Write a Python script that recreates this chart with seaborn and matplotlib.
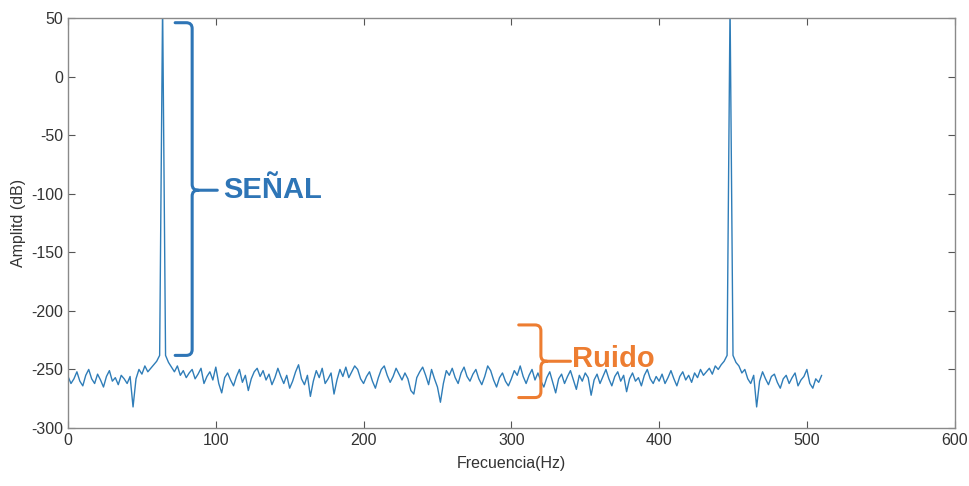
import numpy as np
import seaborn as sns
import matplotlib.pyplot as plt
from matplotlib.path import Path
from matplotlib.patches import PathPatch

seg_a = [-256, -262, -258, -252, -260, -264, -255, -250, -258, -262,
         -254, -259, -265, -256, -251, -260, -257, -263, -255, -258,
         -262, -256, -282, -258, -250, -254, -247, -252, -249, -246,
         -243, -238]
peak_1 = [62]
seg_b = [-238, -244, -248, -252, -247, -255, -251, -257, -253, -250,
         -258, -254, -249, -262, -256, -252, -259]
seg_c = [-248, -262, -270, -257, -253, -259, -264, -256, -250, -261,
         -255, -268, -258, -252, -249, -256, -251, -259, -254, -263,
         -257, -249, -256, -262, -255, -266, -260, -252, -246, -258,
         -263, -255, -273, -260, -251, -257, -249, -262, -258, -253,
         -271, -259, -250, -256, -248, -257, -252, -247, -250, -258]
seg_d = [-262, -256, -252, -260, -266, -257, -250, -247, -255, -261,
         -256, -249, -254, -259, -253, -258, -268, -271, -257, -252,
         -248, -255, -263, -250, -258, -265, -278, -262, -251, -255,
         -249, -257, -262, -253, -248, -256, -260, -254, -250, -258,
         -263, -256, -247, -251, -259, -265, -257, -253, -260, -264]
seg_e = [-258, -251, -255, -247, -256, -262, -255, -250, -259, -253,
         -260, -265, -257, -252, -261, -270, -258, -254, -262, -256,
         -251, -259, -267, -255, -260, -253, -257, -272, -259, -254,
         -262, -256, -250, -258, -264, -256, -252, -260, -255, -269,
         -258, -253, -260, -257, -264, -255, -250, -258, -262, -256]
seg_f = [-260, -254, -262, -257, -251, -258, -264, -256, -252, -259,
         -255, -261, -253, -257, -250, -255, -252, -249, -254, -247,
         -250, -246, -243, -238]
peak_2 = [62]
seg_g = [-238, -244, -247, -253, -250, -258, -262, -255, -282, -260,
         -252, -258, -263, -256, -254, -261, -266, -258, -255, -262,
         -257, -253, -264, -259, -256, -250, -262, -266, -258, -261,
         -255]

amplitude = seg_a + peak_1 + seg_b + seg_c + seg_d + seg_e + seg_f + peak_2 + seg_g
frequency = np.arange(0, 2 * len(amplitude), 2)

x_ticks = [0, 100, 200, 300, 400, 500, 600]
y_ticks = [-300, -250, -200, -150, -100, -50, 0, 50]

line_color = "#2f7db8"
signal_color = "#2e75b6"
noise_color = "#ed7d31"

sns.set_style("ticks", {"xtick.direction": "in", "ytick.direction": "in"})
plt.rcParams["font.family"] = ["Liberation Sans", "DejaVu Sans"]
plt.rcParams["axes.unicode_minus"] = False

fig = plt.figure(figsize=(9.69, 4.86), dpi=100)
ax = fig.add_axes([0.0702, 0.1193, 0.915, 0.8436])
sns.lineplot(x=frequency, y=amplitude, ax=ax, color=line_color, linewidth=1.0)

ax.set_xlim(0, 600)
ax.set_ylim(-300, 50)
ax.set_xticks(x_ticks)
ax.set_yticks(y_ticks)
ax.tick_params(axis="both", which="both", top=True, right=True, length=5,
               width=0.8, color="#555555", labelsize=11.5, labelcolor="#333333")
for s in ax.spines.values():
    s.set_color("#8a8a8a")
    s.set_linewidth(1.0)
ax.set_xlabel("Frecuencia(Hz)", fontsize=11.5, color="#333333", labelpad=6)
ax.set_ylabel("Amplitd (dB)", fontsize=11.5, color="#333333", labelpad=4)


def brace(ax, x0, xv, xt, ylo, yhi, ym, color, rx=4.0, ry=5.0):
    verts = [(x0, yhi), (xv - rx, yhi), (xv, yhi), (xv, yhi - ry),
             (xv, ym + ry), (xv, ym), (xv + rx, ym), (xt, ym),
             (xv + rx, ym), (xv, ym), (xv, ym - ry),
             (xv, ylo + ry), (xv, ylo), (xv - rx, ylo), (x0, ylo)]
    codes = [Path.MOVETO, Path.LINETO, Path.CURVE3, Path.CURVE3,
             Path.LINETO, Path.CURVE3, Path.CURVE3, Path.LINETO,
             Path.MOVETO, Path.CURVE3, Path.CURVE3,
             Path.LINETO, Path.CURVE3, Path.CURVE3, Path.LINETO]
    ax.add_patch(PathPatch(Path(verts, codes), fill=False, edgecolor=color,
                           linewidth=2.2, capstyle="round", zorder=4))


brace(ax, 72.5, 84, 101, -238, 46, -97, signal_color)
ax.text(105, -97, "SEÑAL", color=signal_color, fontsize=21, fontweight="bold",
        va="center", ha="left")

brace(ax, 305, 320, 340, -274, -212, -243, noise_color)
ax.text(341, -241, "Ruido", color=noise_color, fontsize=21, fontweight="bold",
        va="center", ha="left")

fig.savefig("out.png", dpi=100)
